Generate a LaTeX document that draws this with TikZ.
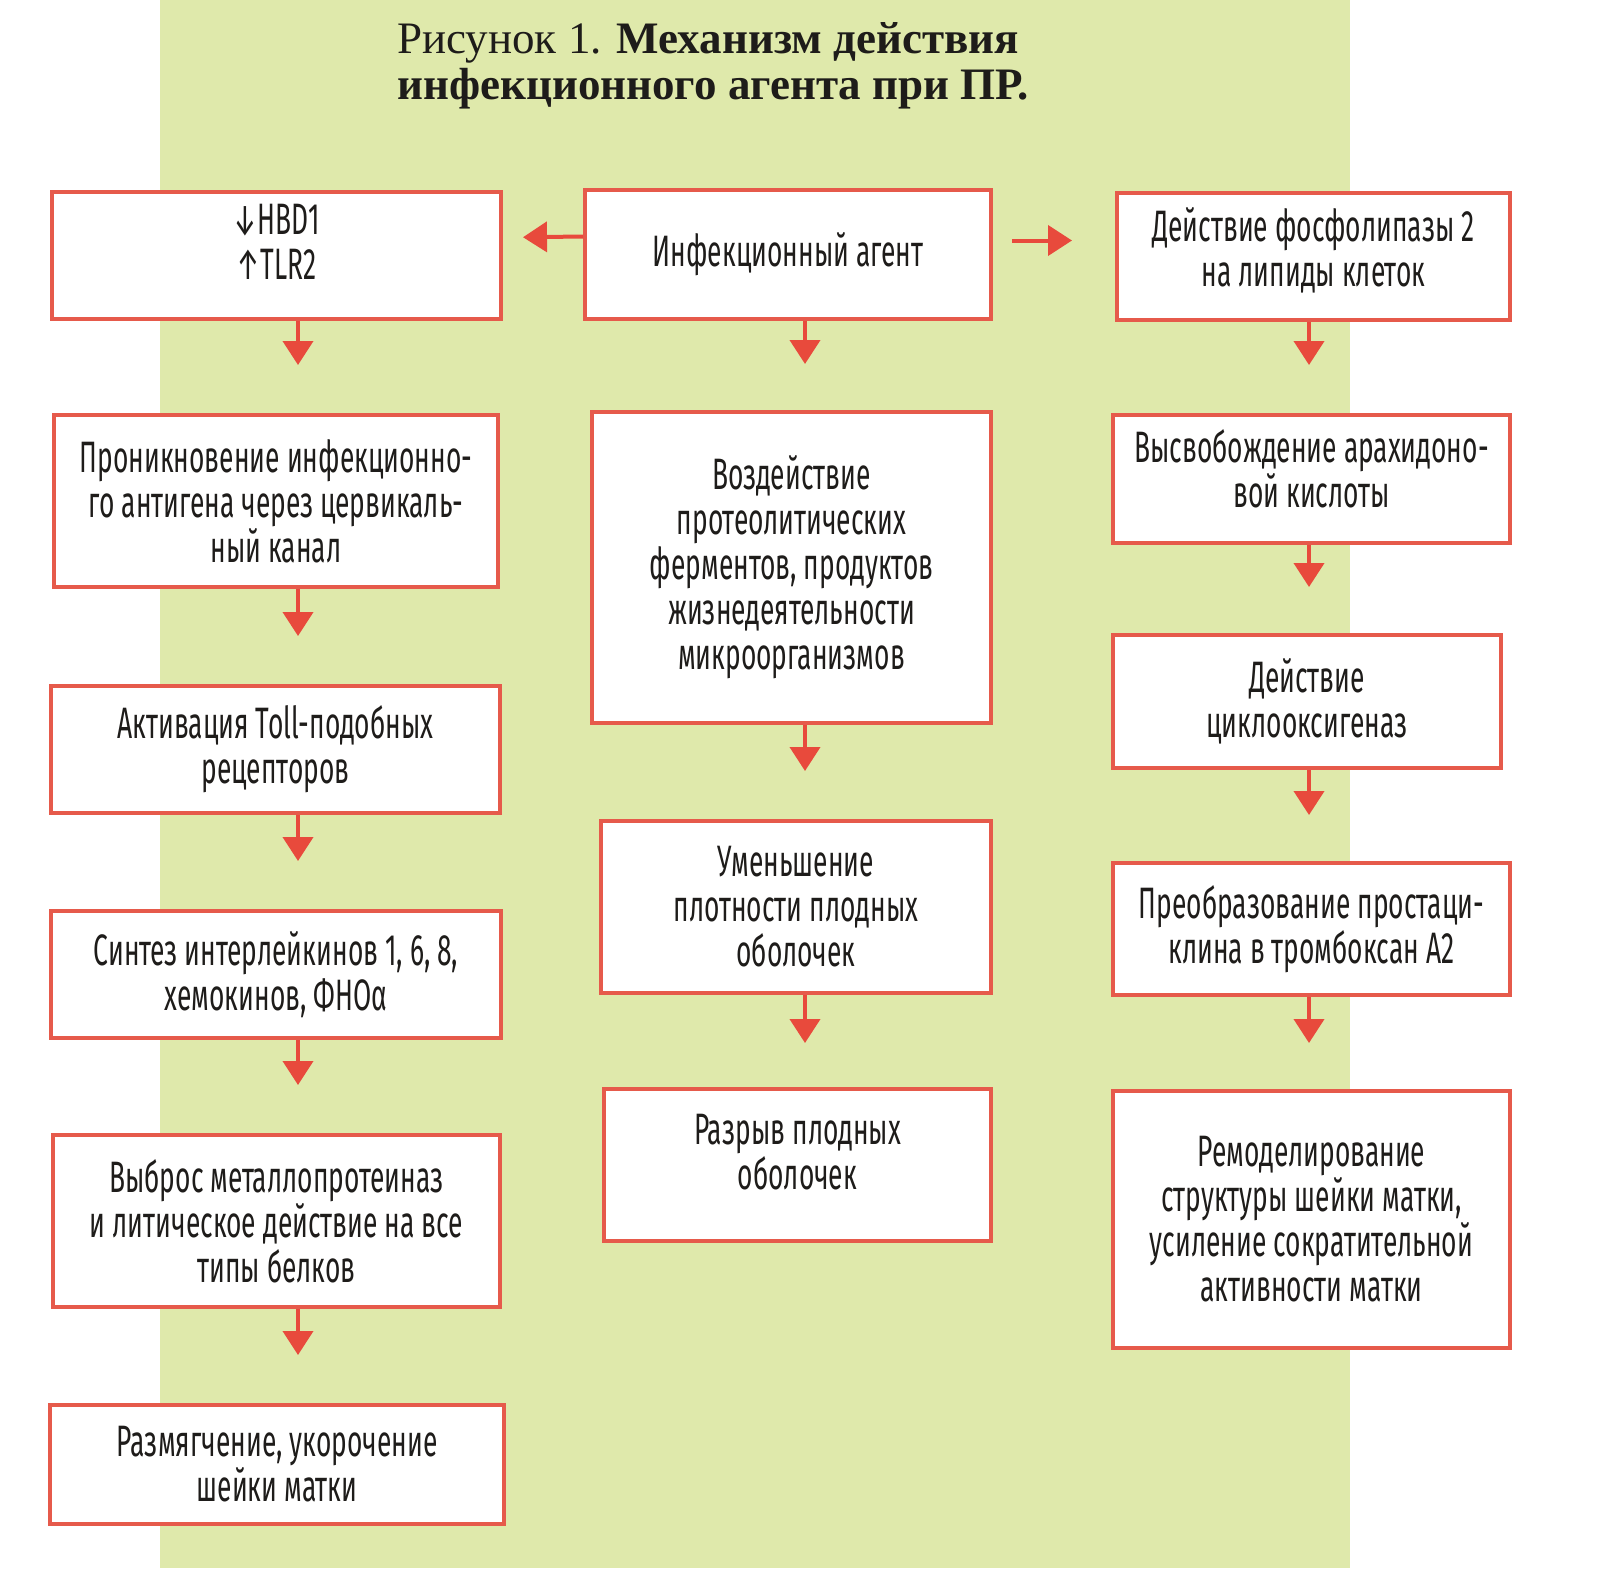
\documentclass[tikz,border=0pt]{standalone}
\usepackage{fontspec}
\setmainfont{Liberation Serif}
\newfontfamily\boxfont[FakeStretch=0.6]{Fira Sans}
\usetikzlibrary{arrows.meta,positioning}

\definecolor{bggreen}{HTML}{DFE9AB}
\definecolor{boxred}{HTML}{E65A4B}
\definecolor{arrred}{HTML}{E84A3C}
\definecolor{inkdark}{HTML}{1E1C1A}

\tikzset{
    box/.style={draw=boxred, line width=2pt, fill=white, inner sep=0pt,
        align=center, text=inkdark, font=\boxfont\fontsize{22}{22.5}\selectfont},
    flow/.style={draw=arrred, line width=2pt, -{Triangle[width=15pt,length=12pt]}}
}

\begin{document}
\begin{tikzpicture}[x=0.5pt,y=-0.5pt]
\useasboundingbox (0,0) rectangle (1599,1568);
\fill[white] (0,0) rectangle (1599,1568);
\fill[bggreen] (160,0) rectangle (1350,1568);

% title
\node[anchor=base west, align=left, inner sep=0pt, text=inkdark,
      font=\fontsize{22.5}{22.5}\selectfont] (title) at (397,99)
    {Рисунок 1. \textbf{Механизм действия}\\\textbf{инфекционного агента при ПР.}};

% left column
\node[box, minimum width=224.5pt, minimum height=63.5pt] (hbd) at (276.5,255.5) {↓HBD1\\↑TLR2\\[-9pt]};
\node[box, minimum width=222pt, minimum height=86pt] (pen) at (276,501) {Проникновение инфекционно-\\го антигена через цервикаль-\\ный канал};
\node[box, minimum width=224.5pt, minimum height=63.5pt] (toll) at (275.5,749.5) {Активация Toll-подобных\\рецепторов};
\node[box, minimum width=225pt, minimum height=63.5pt] (il) at (276,974.5) {Синтез интерлейкинов 1, 6, 8,\\хемокинов, ФНОα};
\node[box, minimum width=223.5pt, minimum height=86pt] (mmp) at (276.5,1221) {Выброс металлопротеиназ\\и литическое действие на все\\типы белков};
\node[box, minimum width=227pt, minimum height=59.5pt] (soft) at (277,1464.5) {Размягчение, укорочение\\шейки матки};

% middle column
\node[box, minimum width=203pt, minimum height=64.5pt] (agent) at (788,254.5) {Инфекционный агент};
\node[box, minimum width=199.5pt, minimum height=155.5pt] (enz) at (791.5,567.5) {Воздействие\\протеолитических\\ферментов, продуктов\\жизнедеятельности\\микроорганизмов};
\node[box, minimum width=195pt, minimum height=86pt] (dens) at (796,907) {Уменьшение\\плотности плодных\\оболочек};
\node[box, minimum width=193.5pt, minimum height=76pt] (rupt) at (797.5,1165) {Разрыв плодных\\оболочек\\[-9.5pt]};

% right column
\node[box, minimum width=196.5pt, minimum height=63.5pt] (pla) at (1313.5,256.5) {Действие фосфолипазы 2\\на липиды клеток\\[-12.5pt]};
\node[box, minimum width=198.5pt, minimum height=64pt] (ara) at (1311.5,479) {Высвобождение арахидоно-\\вой кислоты\\[-12pt]};
\node[box, minimum width=194pt, minimum height=66.5pt] (cox) at (1307,701.5) {Действие\\циклооксигеназ};
\node[box, minimum width=198.5pt, minimum height=66pt] (prost) at (1311.5,929) {Преобразование простаци-\\клина в тромбоксан А2};
\node[box, minimum width=198.5pt, minimum height=128.5pt] (remod) at (1311.5,1219.5) {Ремоделирование\\структуры шейки матки,\\усиление сократительной\\активности матки};

% arrow columns
\coordinate (lx) at (298,0);
\coordinate (cx) at (805,0);
\coordinate (rx) at (1309,0);

\draw[flow, shorten >=24pt] (hbd.south -| lx) -- (pen.north -| lx);
\draw[flow, shorten >=24pt] (pen.south -| lx) -- (toll.north -| lx);
\draw[flow, shorten >=24pt] (toll.south -| lx) -- (il.north -| lx);
\draw[flow, shorten >=24pt] (il.south -| lx) -- (mmp.north -| lx);
\draw[flow, shorten >=24pt] (mmp.south -| lx) -- (soft.north -| lx);

\draw[flow, shorten >=23pt] (agent.south -| cx) -- (enz.north -| cx);
\draw[flow, shorten >=24pt] (enz.south -| cx) -- (dens.north -| cx);
\draw[flow, shorten >=22pt] (dens.south -| cx) -- (rupt.north -| cx);

\draw[flow, shorten >=24pt] (pla.south -| rx) -- (ara.north -| rx);
\draw[flow, shorten >=23pt] (ara.south -| rx) -- (cox.north -| rx);
\draw[flow, shorten >=23pt] (cox.south -| rx) -- (prost.north -| rx);
\draw[flow, shorten >=23pt] (prost.south -| rx) -- (remod.north -| rx);

\draw[flow, shorten >=10pt] ([yshift=9pt]agent.west) -- ([yshift=9pt]hbd.east);
\draw[flow, shorten <=9.5pt, shorten >=21.5pt] ([yshift=7pt]agent.east) -- ([yshift=7pt]agent.east -| pla.west);
\end{tikzpicture}
\end{document}
